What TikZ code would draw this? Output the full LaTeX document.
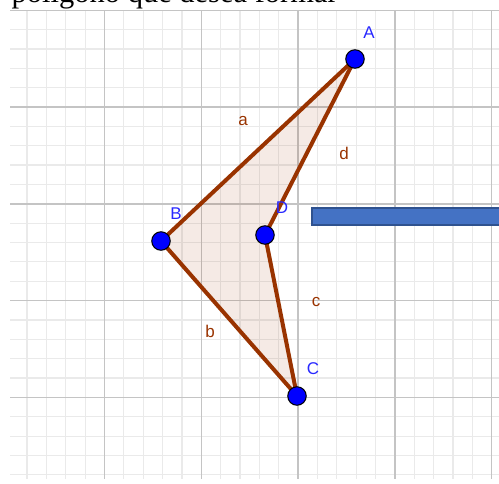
\documentclass[tikz,border=0pt]{standalone}
\usepackage{fontspec}
\setmainfont{Liberation Serif}
\setsansfont{Liberation Sans}
\definecolor{segcol}{RGB}{153,51,0}
\definecolor{ptcol}{RGB}{0,0,255}
\definecolor{lblcol}{RGB}{40,40,255}
\definecolor{minorcol}{RGB}{234,234,234}
\definecolor{majorcol}{RGB}{196,196,196}
\definecolor{barfill}{RGB}{68,114,196}
\definecolor{bardraw}{RGB}{47,82,143}
\begin{document}
\begin{tikzpicture}[x=1pt,y=-1pt,
  minorline/.style={draw=minorcol,line width=1.2pt},
  majorline/.style={draw=majorcol,line width=1.5pt},
  seg/.style={draw=segcol,line width=4pt,line cap=round},
  pt/.style={circle,fill=ptcol,draw=black,line width=1pt,minimum size=18.5pt,inner sep=0pt},
  ptlabel/.style={text=lblcol,font=\sffamily\fontsize{17}{17}\selectfont,inner sep=0pt},
  seglabel/.style={text=segcol,font=\sffamily\fontsize{17}{17}\selectfont,inner sep=0pt}]
\useasboundingbox (0,0) rectangle (499,483);
% title (cut off at the top, as in the reference)
\node[anchor=base west,inner sep=0pt,font=\fontsize{30.5}{30.5}\selectfont] (title) at (11.5,2) {polígono que desea formar};
% grid
\begin{scope}
\clip (10,10) rectangle (499,478);
\foreach \k in {-5,...,21} {
  \draw[minorline] ({104.5+19.36*\k},0) -- ({104.5+19.36*\k},483);
  \draw[minorline] (0,{107+19.36*\k}) -- (499,{107+19.36*\k});
}
\foreach \k in {-1,...,4} {
  \draw[majorline] ({104.5+96.8*\k},0) -- ({104.5+96.8*\k},483);
  \draw[majorline] (0,{107+96.8*\k}) -- (499,{107+96.8*\k});
}
\end{scope}
% polygon
\coordinate (pA) at (355,59);
\coordinate (pB) at (161,241);
\coordinate (pC) at (297,396);
\coordinate (pD) at (265,235);
\fill[segcol,fill opacity=0.1] (pA) -- (pB) -- (pC) -- (pD) -- cycle;
\draw[seg] (pA) -- (pB);
\draw[seg] (pB) -- (pC);
\draw[seg] (pC) -- (pD);
\draw[seg] (pD) -- (pA);
% points
\node[pt] (A) at (pA) {};
\node[pt] (B) at (pB) {};
\node[pt] (C) at (pC) {};
\node[pt] (D) at (pD) {};
% labels
\node[ptlabel] (lA) at (369,33) {A};
\node[ptlabel] (lB) at (176,214) {B};
\node[ptlabel] (lC) at (313,369) {C};
\node[ptlabel] (lD) at (282,208) {D};
\node[seglabel] (la) at (243,121) {a};
\node[seglabel] (lb) at (210,331) {b};
\node[seglabel] (lc) at (316,302) {c};
\node[seglabel] (ld) at (344,153) {d};
% blue bar
\draw[fill=barfill,draw=bardraw,line width=1.2pt] (312,208) rectangle (503,225);
\end{tikzpicture}
\end{document}
